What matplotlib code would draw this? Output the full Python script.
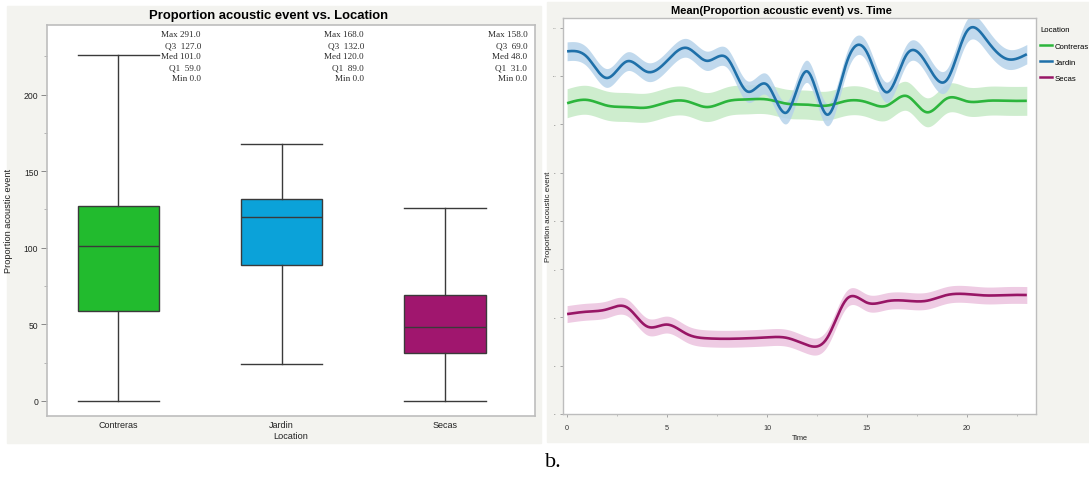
import numpy as np
import matplotlib
matplotlib.use("Agg")
import matplotlib.pyplot as plt
from matplotlib.patches import Rectangle
from matplotlib.lines import Line2D

# ---- Box plot data: Proportion acoustic event by location ----
locations = ["Contreras", "Jardin", "Secas"]
stat_max = [291.0, 168.0, 158.0]
stat_q3 = [127.0, 132.0, 69.0]
stat_med = [101.0, 120.0, 48.0]
stat_q1 = [59.0, 89.0, 31.0]
stat_min = [0.0, 0.0, 0.0]
whisker_hi = [226.0, 168.0, 126.0]
whisker_lo = [0.0, 24.0, 0.0]
box_colors = ["#22bb2e", "#0ba2d9", "#a0166e"]

# ---- Hourly mean of proportion acoustic event ----
hours = list(range(24))
mean_contreras = [94.35, 95.04, 93.86, 93.56, 93.46, 94.55, 94.75, 93.56, 94.75, 95.14, 95.14, 94.25,
                  94.06, 93.86, 94.85, 94.55, 93.86, 95.83, 92.48, 95.34, 94.75, 94.85, 94.85, 94.85]
mean_jardin = [105.10, 103.92, 99.58, 103.03, 100.86, 103.13, 105.79, 103.13, 103.72, 96.82, 98.20, 92.48,
               100.96, 92.0, 102.93, 104.90, 96.62, 104.51, 102.44, 99.18, 109.24, 107.37, 103.52, 104.51]
mean_secas = [50.69, 51.19, 51.68, 52.07, 48.13, 48.52, 46.55, 45.67, 45.57, 45.67, 45.86, 45.76,
              44.29, 45.67, 53.85, 53.06, 53.36, 53.45, 53.45, 54.64, 54.83, 54.54, 54.64, 54.64]
ci_contreras = [3.0] * 24
ci_jardin = [1.95, 1.95, 1.95, 1.95, 1.95, 1.95, 1.95, 2.0, 2.0, 2.2, 2.2, 2.3,
             2.3, 2.3, 2.1, 2.0, 2.1, 2.1, 2.2, 2.3, 2.4, 2.4, 2.1, 2.0]
ci_secas = [1.75] * 24

line_colors = {"Contreras": "#2cb53c", "Jardin": "#1f70a9", "Secas": "#981666"}
band_colors = {"Contreras": "#c6eac6", "Jardin": "#b6d3ea", "Secas": "#ebc2de"}

W, H = 1089, 481
fig = plt.figure(figsize=(W / 100, H / 100), dpi=100)
fig.patch.set_facecolor("white")

SANS = ["Liberation Sans", "DejaVu Sans"]
SERIF = ["Liberation Serif", "DejaVu Serif"]
PANEL = "#f3f3ef"
SPINE = "#bdbdbd"


def fx(px):
    return px / W


def fy(py):
    return 1 - py / H


# panel backgrounds
fig.patches.append(Rectangle((fx(7.3), fy(444)), fx(541 - 7.3), (444 - 7) / H,
                             transform=fig.transFigure, color=PANEL, zorder=-10))
fig.patches.append(Rectangle((fx(547), fy(443.3)), fx(1089 - 547), (443.3 - 3) / H,
                             transform=fig.transFigure, color=PANEL, zorder=-10))

# ================= Left: box plot =================
L_TOP, L_BOT = 25.7, 416.7
ax1 = fig.add_axes([fx(46.7), fy(L_BOT), fx(534.6 - 46.7), (L_BOT - L_TOP) / H])
ax1.set_facecolor("white")
stats = []
for i, name in enumerate(locations):
    stats.append(dict(label=name, whislo=whisker_lo[i], q1=stat_q1[i], med=stat_med[i],
                      q3=stat_q3[i], whishi=whisker_hi[i]))
bp = ax1.bxp(stats, positions=[0, 1, 2], widths=0.5, capwidths=0.5, patch_artist=True,
             showfliers=False,
             boxprops=dict(edgecolor="#3a3a3a", linewidth=1.0),
             medianprops=dict(color="#3a3a3a", linewidth=1.0),
             whiskerprops=dict(color="#3a3a3a", linewidth=1.0),
             capprops=dict(color="#3a3a3a", linewidth=1.0))
for patch, c in zip(bp["boxes"], box_colors):
    patch.set_facecolor(c)

ax1.set_xlim(-0.44, 2.55)
ax1.set_ylim(-9.6, 245.6)
ax1.set_yticks([0, 50, 100, 150, 200])
ax1.set_yticks([25, 75, 125, 175, 225], minor=True)
ax1.tick_params(axis="y", which="major", length=4.5, width=0.7, color="#888888",
                labelsize=6.2, pad=1.5, labelcolor="#222222")
ax1.tick_params(axis="y", which="minor", length=2.5, width=0.6, color="#aaaaaa")
ax1.tick_params(axis="x", length=0, labelsize=6.5, pad=2.8, labelcolor="#222222")
for lab in ax1.get_xticklabels() + ax1.get_yticklabels():
    lab.set_family(SANS)
for s in ax1.spines.values():
    s.set_color(SPINE)
    s.set_linewidth(1.2)
ax1.set_xlabel("Location", fontsize=6.6, family=SANS, labelpad=1.5, color="#222222")
ax1.set_ylabel("Proportion acoustic event", fontsize=6.6, family=SANS, color="#222222")
ax1.yaxis.set_label_coords((13.4 - 46.7) / (534.6 - 46.7), 0.5)
fig.text(fx(268.6), fy(15.8), "Proportion acoustic event vs. Location", ha="center",
         va="center", fontsize=9.4, fontweight="bold", family=SANS)

# summary statistics printed above each box
line_y = [35.3, 46.2, 57.4, 68.4, 79.3]
for i in range(3):
    lines = [f"Max {stat_max[i]:.1f}", f"Q3  {stat_q3[i]:.1f}", f"Med {stat_med[i]:.1f}",
             f"Q1  {stat_q1[i]:.1f}", f"Min {stat_min[i]:.1f}"]
    for ly, txt in zip(line_y, lines):
        ax1.text(i + 0.505, (L_BOT - ly) / (L_BOT - L_TOP), txt,
                 transform=ax1.get_xaxis_transform(), ha="right", va="center",
                 fontsize=6.6, family=SERIF, color="#2a2a2a")

# ================= Right: smoothed mean vs time =================
R_TOP, R_BOT, R_L, R_R = 19.0, 415.0, 563.3, 1036.0
ax2 = fig.add_axes([fx(R_L), fy(R_BOT), fx(R_R - R_L), (R_BOT - R_TOP) / H])
ax2.set_facecolor("white")


def natural_spline(x, y, xs):
    x = np.asarray(x, float)
    y = np.asarray(y, float)
    n = len(x)
    h = np.diff(x)
    A = np.zeros((n, n))
    r = np.zeros(n)
    A[0, 0] = A[-1, -1] = 1.0
    for k in range(1, n - 1):
        A[k, k - 1] = h[k - 1]
        A[k, k] = 2 * (h[k - 1] + h[k])
        A[k, k + 1] = h[k]
        r[k] = 3 * ((y[k + 1] - y[k]) / h[k] - (y[k] - y[k - 1]) / h[k - 1])
    c = np.linalg.solve(A, r)
    b = (y[1:] - y[:-1]) / h - h * (2 * c[:-1] + c[1:]) / 3
    d = (c[1:] - c[:-1]) / (3 * h)
    idx = np.clip(np.searchsorted(x, xs) - 1, 0, n - 2)
    dx = xs - x[idx]
    return y[idx] + b[idx] * dx + c[idx] * dx ** 2 + d[idx] * dx ** 3


ts = np.linspace(hours[0], hours[-1], 800)
series = [("Contreras", mean_contreras, ci_contreras),
          ("Jardin", mean_jardin, ci_jardin),
          ("Secas", mean_secas, ci_secas)]
for name, mean, ci in series:
    m = np.asarray(mean)
    e = np.asarray(ci)
    ax2.fill_between(ts, natural_spline(hours, m - e, ts), natural_spline(hours, m + e, ts),
                     color=band_colors[name], alpha=0.85, linewidth=0, zorder=1)
for name, mean, ci in series:
    ax2.plot(ts, natural_spline(hours, mean, ts), color=line_colors[name], lw=1.9,
             zorder=3, solid_capstyle="butt")

ax2.set_xlim(-0.19, 23.46)
ax2.set_ylim(30, 112.0)
ax2.set_xticks([0, 5, 10, 15, 20])
ax2.set_xticks([2.5, 7.5, 12.5, 17.5, 22.5], minor=True)
ax2.set_yticks(np.arange(30, 111, 10))
ax2.tick_params(axis="x", which="major", length=1.8, width=0.6, color="#999999",
                labelsize=5.2, pad=5.3, labelcolor="#333333")
ax2.tick_params(axis="x", which="minor", length=1.5, width=0.5, color="#aaaaaa")
ax2.tick_params(axis="y", length=2.5, width=0.6, color="#999999", labelsize=1.6,
                pad=2.5, labelcolor="#666666")
for lab in ax2.get_xticklabels() + ax2.get_yticklabels():
    lab.set_family(SANS)
for s in ax2.spines.values():
    s.set_color(SPINE)
    s.set_linewidth(1.0)
ax2.set_xlabel("Time", fontsize=5.3, family=SANS, labelpad=2, color="#222222")
ax2.set_ylabel("Proportion acoustic event", fontsize=5.8, family=SANS, color="#222222")
ax2.yaxis.set_label_coords((552.5 - R_L) / (R_R - R_L), 0.5)
fig.text(fx(781), fy(11), "Mean(Proportion acoustic event) vs. Time", ha="center",
         va="center", fontsize=8, fontweight="bold", family=SANS)

handles = [Line2D([], [], color=line_colors[n], lw=1.8) for n in locations]
leg = fig.legend(handles, locations, title="Location", loc="upper left",
                 bbox_to_anchor=(fx(1040), fy(27)), frameon=False, borderpad=0,
                 borderaxespad=0, fontsize=5.6, title_fontsize=5.6, handlelength=1.6,
                 handletextpad=0.3, labelspacing=1.1, alignment="left")
leg._legend_box.sep = 7
for t in leg.get_texts() + [leg.get_title()]:
    t.set_family(SANS)

fig.text(fx(545), fy(467), "b.", ha="left", va="baseline", fontsize=16, family=SERIF)

fig.savefig("out.png", dpi=100)
